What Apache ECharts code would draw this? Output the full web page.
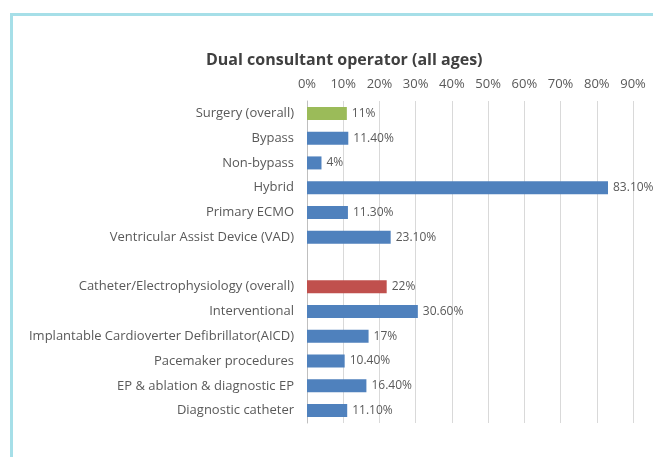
<!DOCTYPE html>
<html>
<head>
<meta charset="utf-8">
<script src="https://cdn.jsdelivr.net/npm/echarts@6/dist/echarts.min.js"></script>
<style>
  html, body { margin: 0; padding: 0; background: #fff; }
</style>
</head>
<body>
<div id="myChart" style="width: 653px; height: 457px;"></div>
<script>
// categories, top to bottom ('' is the spacer row between the two groups)
const categories = [
  'Surgery (overall)',
  'Bypass',
  'Non-bypass',
  'Hybrid',
  'Primary ECMO',
  'Ventricular Assist Device (VAD)',
  '',
  'Catheter/Electrophysiology (overall)',
  'Interventional',
  'Implantable Cardioverter Defibrillator(AICD)',
  'Pacemaker procedures',
  'EP & ablation & diagnostic EP',
  'Diagnostic catheter'
];
// percent values
const values = [11, 11.4, 4, 83.1, 11.3, 23.1, null, 22, 30.6, 17, 10.4, 16.4, 11.1];
// label text as shown on the chart
const valueLabels = ['11%', '11.40%', '4%', '83.10%', '11.30%', '23.10%', '', '22%', '30.60%', '17%', '10.40%', '16.40%', '11.10%'];
// bar colour group: 'overall' rows are highlighted
const barKinds = ['surgery', 'sub', 'sub', 'sub', 'sub', 'sub', 'sub', 'catheter', 'sub', 'sub', 'sub', 'sub', 'sub'];
const xTicks = [0, 10, 20, 30, 40, 50, 60, 70, 80, 90];

const kindColor = { surgery: '#9BBB59', catheter: '#C0504D', sub: '#4F81BD' };
const textFont = 'Open Sans, Noto Sans, sans-serif';

let myChart = echarts.init(document.getElementById('myChart'));

myChart.setOption({
  animation: false,
  backgroundColor: '#fff',
  title: {
    text: 'Dual consultant operator (all ages)',
    left: 201,
    top: 47,
    textStyle: {
      fontFamily: textFont,
      fontSize: 16,
      fontWeight: 'bold',
      color: '#404040'
    }
  },
  graphic: [{
    type: 'rect',
    left: 10,
    top: 13,
    shape: { width: 700, height: 500 },
    style: { fill: 'transparent', stroke: '#A6DFE8', lineWidth: 3 },
    silent: true,
    z: 100
  }],
  grid: {
    left: 307,
    top: 101,
    right: 20,
    bottom: 34
  },
  xAxis: {
    type: 'value',
    position: 'top',
    min: xTicks[0],
    max: xTicks[xTicks.length - 1],
    interval: 10,
    axisLine: { show: false },
    axisTick: { show: false },
    axisLabel: {
      margin: 10,
      fontFamily: textFont,
      fontSize: 13,
      color: '#595959',
      formatter: '{value}%'
    },
    splitLine: { show: true, lineStyle: { color: '#D9D9D9', width: 1 } }
  },
  yAxis: {
    type: 'category',
    inverse: true,
    data: categories,
    axisLine: { show: true, lineStyle: { color: '#BFBFBF' } },
    axisTick: { show: false },
    axisLabel: {
      margin: 13,
      fontFamily: textFont,
      fontSize: 13,
      color: '#595959'
    }
  },
  series: [{
    type: 'bar',
    barWidth: 13,
    data: values.map((v, i) => ({
      value: v,
      itemStyle: { color: kindColor[barKinds[i]] }
    })),
    label: {
      show: true,
      position: 'right',
      distance: 5,
      fontFamily: textFont,
      fontSize: 12,
      color: '#595959',
      formatter: p => valueLabels[p.dataIndex]
    }
  }]
});
</script>
</body>
</html>
